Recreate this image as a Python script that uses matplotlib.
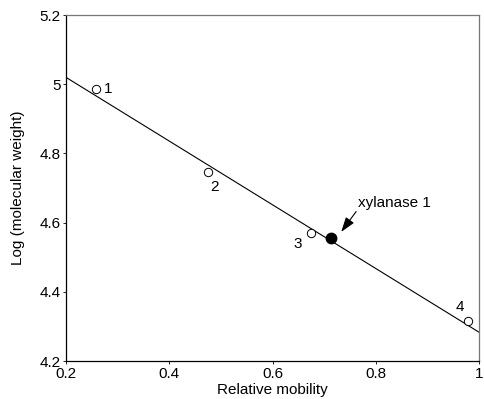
import matplotlib
matplotlib.use("Agg")
import matplotlib.pyplot as plt
import numpy as np

plt.rcParams['font.family'] = ['Liberation Sans', 'DejaVu Sans']

# Standards
std_mobility = [0.258, 0.475, 0.675, 0.979]
std_logmw = [4.986, 4.746, 4.570, 4.316]
std_labels = ["1", "2", "3", "4"]
# Unknown
xyl_mobility = [0.714]
xyl_logmw = [4.555]

xticks = [0.2, 0.4, 0.6, 0.8, 1.0]
xtick_labels = ["0.2", "0.4", "0.6", "0.8", "1"]
yticks = [4.2, 4.4, 4.6, 4.8, 5.0, 5.2]
ytick_labels = ["4.2", "4.4", "4.6", "4.8", "5", "5.2"]

fig = plt.figure(figsize=(4.84, 3.99), dpi=100)
ax = fig.add_axes([0.1364, 0.0952, 0.8533, 0.8672])

slope, intercept = np.polyfit(std_mobility, std_logmw, 1)
xl = np.array([0.2, 1.0])
ax.plot(xl, slope * xl + intercept, color='black', lw=0.8, zorder=1)

ax.plot(std_mobility, std_logmw, 'o', ms=6, mfc='white', mec='black', mew=0.7, zorder=2)
ax.plot(xyl_mobility, xyl_logmw, 'o', ms=7.5, mfc='black', mec='black', zorder=3)

offsets = [(6, 0, 'left', 'center'), (5, -11, 'center', 'center'),
           (-10, -8, 'center', 'center'), (-6, 10, 'center', 'center')]
for x, y, lab, (dx, dy, ha, va) in zip(std_mobility, std_logmw, std_labels, offsets):
    ax.annotate(lab, (x, y), xytext=(dx, dy), textcoords='offset points',
                ha=ha, va=va, fontsize=11)

ax.text(0.766, 4.657, "xylanase 1", ha='left', va='center', fontsize=11)
ax.annotate("", xy=(0.733, 4.573), xytext=(0.762, 4.632),
            arrowprops=dict(arrowstyle='-|>,head_length=0.9,head_width=0.3',
                            color='black', lw=0.8, shrinkA=0, shrinkB=0))

ax.set_xlim(0.2, 1.0)
ax.set_ylim(4.2, 5.2)
ax.set_xticks(xticks)
ax.set_xticklabels(xtick_labels)
ax.set_yticks(yticks)
ax.set_yticklabels(ytick_labels)
ax.tick_params(length=2, width=0.6, labelsize=11, pad=2)
for s in ['left', 'bottom']:
    ax.spines[s].set_linewidth(0.9)
for s in ['top', 'right']:
    ax.spines[s].set_linewidth(0.9)
    ax.spines[s].set_color('#777777')

ax.set_xlabel("Relative mobility", fontsize=11, labelpad=2)
ax.set_ylabel("Log (molecular weight)", fontsize=11, labelpad=10)

fig.savefig("out.png", dpi=100)
